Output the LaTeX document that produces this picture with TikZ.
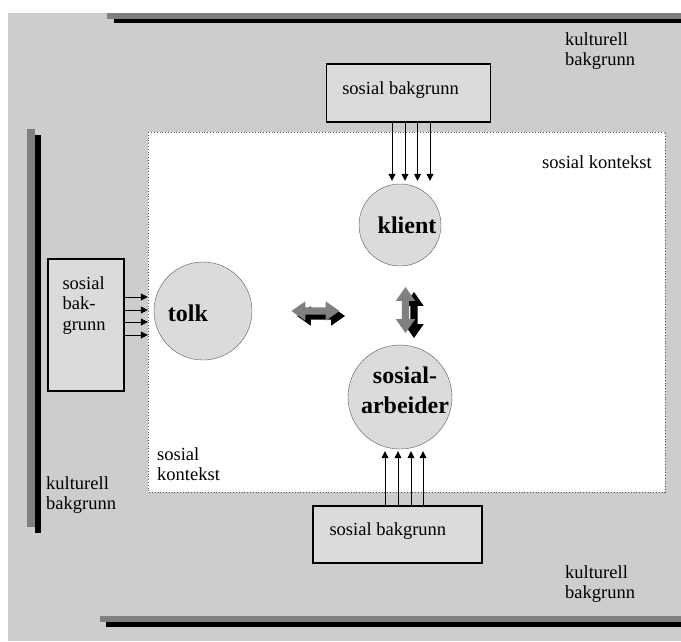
\documentclass[tikz,border=0pt]{standalone}
\usepackage{fontspec}
\setmainfont{Liberation Serif}
\usetikzlibrary{positioning,arrows.meta,shapes.arrows}
\definecolor{BgGrey}{RGB}{205,205,205}
\definecolor{BoxGrey}{RGB}{219,219,219}
\definecolor{BarGrey}{RGB}{128,128,128}
\definecolor{RingGrey}{RGB}{90,90,90}

\begin{document}
\begin{tikzpicture}[x=1pt,y=-1pt,
  txt/.style={font=\fontsize{18.5}{20.5}\selectfont,align=left,inner sep=0},
  bg/.style={draw,line width=1.3pt,fill=BoxGrey,inner sep=0},
  circ/.style={circle,draw=RingGrey,fill=BoxGrey,inner sep=0},
  lbl/.style={font=\fontsize{24}{30}\selectfont\bfseries,align=center,inner sep=0},
  dbl/.style n args={2}{double arrow,fill=#1,minimum width=19pt,minimum height=#2,double arrow head extend=6pt,double arrow tip angle=70,inner sep=3.5pt},
  inarr/.style={-{Triangle[length=7pt,width=7pt]},line width=0.8pt}]
\useasboundingbox (0,0) rectangle (681,641);
\fill[BgGrey] (8,13) rectangle (681,641);
\draw[fill=white,draw=RingGrey,dotted,line width=0.8pt] (148,132) rectangle (665,492);
% bars
\fill[BarGrey] (107,13) rectangle (681,19);
\fill[black] (114,19) rectangle (681,22.5);
\fill[BarGrey] (100,616) rectangle (681,622);
\fill[black] (106,622) rectangle (681,627);
\fill[BarGrey] (27,129) rectangle (34.5,527);
\fill[black] (34.5,135) rectangle (40.5,533);
% boxes
\node[bg,minimum width=164pt,minimum height=58pt] (bgtop) at (408.7,93) {};
\node[bg,minimum width=76pt,minimum height=132pt] (bgleft) at (86,325) {};
\node[bg,minimum width=169pt,minimum height=57pt] (bgbottom) at (397.5,534.5) {};
\node[txt,right=16pt of bgtop.west,yshift=3pt] (tbgtop) {sosial bakgrunn};
\node[txt,below right=18pt and 15pt of bgleft.north west] (tbgleft) {sosial\\bak-\\grunn};
\node[txt,right=17pt of bgbottom.west,yshift=3pt] (tbgbottom) {sosial bakgrunn};
% circles
\node[circ,minimum size=82pt,label={[lbl,xshift=7pt]center:klient}] (klient) at (400,225) {};
\node[circ,minimum size=98pt,label={[lbl,xshift=-15pt,yshift=-2pt]center:tolk}] (tolk) at (203,311) {};
\node[circ,minimum size=104pt,label={[lbl,xshift=5pt,yshift=7pt]center:{sosial-\\arbeider}}] (arbeider) at (400,397) {};
\foreach \dx in {-8,5,17.5,30}
  \draw[inarr,shorten >=3pt] ([xshift=\dx pt]klient.north |- bgtop.south) -- ([xshift=\dx pt]klient.north);
\foreach \dx in {-15,-2,11,23}
  \draw[inarr,shorten >=2pt] ([xshift=\dx pt]arbeider.south |- bgbottom.north) -- ([xshift=\dx pt]arbeider.south);
\foreach \dy in {14,1,-11,-24}
  \draw[inarr,shorten >=6pt] ([yshift=\dy pt]tolk.west -| bgleft.east) -- ([yshift=\dy pt]tolk.west);
% double arrows
\node[dbl={black}{48pt}] (hshade) at (321,316) {};
\node[dbl={BarGrey}{48pt}] (harr) at (315.5,311) {};
\node[dbl={black}{46pt},shape border rotate=90] (vshade) at (414,315) {};
\node[dbl={BarGrey}{46pt},shape border rotate=90] (varr) at (405.5,310) {};
% texts
\node[txt,anchor=base west] (kultop) at (565,65.5) {kulturell\\bakgrunn};
\node[txt,anchor=base west] (ktxtop) at (542,168) {sosial kontekst};
\node[txt,anchor=base west] (ktxleft) at (157,480.5) {sosial\\kontekst};
\node[txt,anchor=base west] (kulleft) at (46,509.5) {kulturell\\bakgrunn};
\node[txt,anchor=base west] (kulbottom) at (565,598.5) {kulturell\\bakgrunn};
\end{tikzpicture}
\end{document}
